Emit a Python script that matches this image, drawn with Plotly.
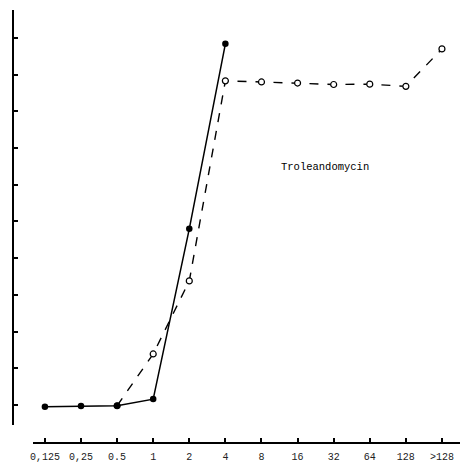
import plotly.graph_objects as go

categories = ["0,125", "0,25", "0.5", "1", "2", "4", "8", "16", "32", "64", "128", ">128"]
solid_x = ["0,125", "0,25", "0.5", "1", "2", "4"]
solid_y = [-0.5, -0.3, -0.2, 1.6, 48, 98.4]
open_x = ["0.5", "1", "2", "4", "8", "16", "32", "64", "128", ">128"]
open_y = [-0.2, 13.9, 33.8, 88.3, 88.0, 87.7, 87.3, 87.4, 86.8, 97.0]
label = "Troleandomycin"

fig = go.Figure()
fig.add_trace(go.Scatter(
    x=open_x, y=open_y, mode="lines+markers",
    line=dict(color="black", width=1.4, dash="dash"),
    marker=dict(symbol="circle", size=6, color="white", line=dict(color="black", width=1.2)),
    showlegend=False,
))
fig.add_trace(go.Scatter(
    x=solid_x, y=solid_y, mode="lines+markers",
    line=dict(color="black", width=1.5),
    marker=dict(symbol="circle", size=6.5, color="black"),
    showlegend=False,
))
fig.add_annotation(x=7.75, y=64.8, xref="x", yref="y", text=label, showarrow=False,
                   font=dict(family="Liberation Mono", size=10.5, color="black"),
                   xanchor="center", yanchor="middle")

fig.update_layout(
    width=464, height=472,
    margin=dict(l=13, r=4, t=10, b=29),
    paper_bgcolor="white", plot_bgcolor="white",
    xaxis=dict(type="category", categoryorder="array", categoryarray=categories,
               range=[-0.33, 11.5], domain=[20/447, 1], anchor="free", position=0,
               showline=True, linecolor="black", linewidth=2, ticks="inside", ticklen=4,
               tickcolor="black", tickwidth=1.5, showgrid=False, zeroline=False,
               ticklabelstandoff=4,
               tickfont=dict(family="Liberation Mono", size=10, color="#222")),
    yaxis=dict(range=[-5.45, 107.6], domain=[18/433, 1], anchor="free", position=0,
               showline=True, linecolor="black", linewidth=2, ticks="inside", ticklen=4,
               tickcolor="black", tickwidth=1.5, tickvals=list(range(0, 101, 10)),
               showticklabels=False, showgrid=False, zeroline=False),
)
fig.write_html("out.html")
